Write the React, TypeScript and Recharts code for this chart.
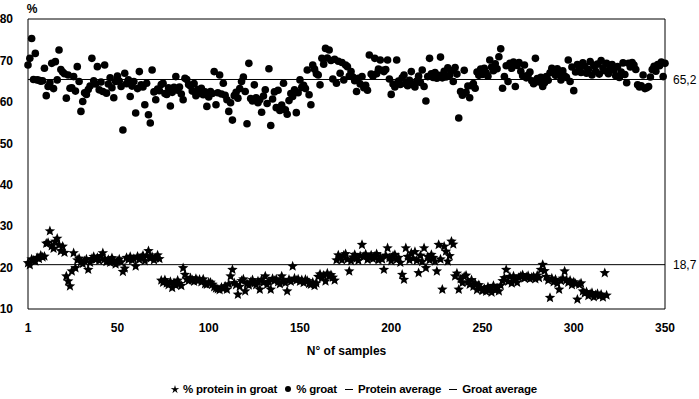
import React from 'react';
import { ScatterChart, Scatter, XAxis, YAxis, ReferenceLine } from 'recharts';

// % groat, samples 1..350
const groat: number[] = [
  68.9, 70.5, 75.3, 65.4, 71.7, 65.3, 65.2, 65.0, 65.1, 68.1,
  61.5, 63.7, 64.6, 69.3, 63.2, 69.7, 65.3, 72.5, 67.8, 67.2,
  66.8, 60.9, 66.5, 63.3, 63.4, 66.1, 62.6, 68.5, 64.9, 57.7,
  60.1, 62.2, 61.8, 63.0, 63.8, 70.5, 65.1, 64.3, 68.5, 62.9,
  64.8, 62.5, 68.9, 62.1, 64.3, 65.8, 63.4, 61.0, 64.9, 66.2,
  65.0, 63.7, 53.2, 66.9, 64.4, 65.3, 61.3, 63.8, 64.9, 57.3,
  63.2, 67.3, 64.1, 63.6, 59.3, 64.5, 56.9, 54.9, 67.7, 62.4,
  60.5, 63.1, 62.7, 64.2, 64.5, 62.0, 61.8, 63.4, 59.0, 62.3,
  63.5, 66.1, 62.8, 63.6, 61.9, 60.5, 65.7, 65.4, 64.2, 63.8,
  62.6, 64.4, 61.5, 63.0, 62.1, 63.3, 61.7, 62.4, 58.9, 61.2,
  62.5, 62.0, 67.3, 59.3, 62.2, 66.5, 61.9, 64.5, 61.6, 60.5,
  57.7, 59.8, 55.6, 61.5, 62.3, 60.9, 63.2, 64.9, 66.0, 62.5,
  54.7, 69.3, 60.8, 60.2, 64.1, 61.0, 59.8, 60.5, 57.5, 61.4,
  62.9, 59.6, 68.0, 54.3, 60.7, 62.4, 58.6, 62.8, 57.9, 59.2,
  64.5, 58.1, 57.0, 60.3, 62.0, 61.3, 62.9, 57.4, 62.2, 65.3,
  63.5, 64.0, 63.2, 67.7, 61.7, 59.3, 68.9, 67.9, 66.8, 66.5,
  64.1, 70.5, 69.1, 72.9, 70.6, 72.5, 70.0, 65.5, 70.3, 64.5,
  69.8, 66.9, 69.5, 65.3, 68.9, 68.5, 66.2, 67.3, 66.0, 65.1,
  62.5, 65.7, 64.3, 66.1, 63.4, 64.0, 62.8, 71.3, 66.7, 66.2,
  70.5, 66.8, 67.9, 70.1, 67.6, 67.3, 67.8, 70.1, 65.5, 61.8,
  64.3, 63.6, 70.1, 65.0, 64.2, 65.8, 66.5, 64.4, 63.9, 65.2,
  67.3, 64.1, 63.6, 65.0, 66.2, 64.7, 67.7, 63.7, 60.2, 66.1,
  70.5, 66.8, 65.9, 67.1, 65.7, 66.4, 70.8, 65.8, 67.4, 66.0,
  68.2, 66.4, 67.5, 64.9, 68.3, 66.7, 56.1, 62.5, 61.6, 67.6,
  62.3, 63.8, 61.0, 63.9, 64.4, 63.3, 67.2, 66.4, 67.9, 66.6,
  68.1, 67.0, 66.2, 70.1, 68.4, 67.5, 69.2, 68.0, 70.9, 72.8,
  63.3, 66.1, 68.7, 64.9, 69.3, 68.1, 69.6, 63.7, 68.8, 69.5,
  67.4, 66.3, 68.9, 65.8, 66.5, 67.2, 65.1, 64.4, 70.5, 65.6,
  64.8, 65.9, 63.7, 64.6, 66.1, 65.2, 67.0, 68.1, 67.3, 66.4,
  68.0, 66.8, 65.3, 67.5, 66.2, 65.9, 70.1, 64.9, 68.4, 62.7,
  67.2, 69.0, 68.3, 67.1, 69.4, 68.6, 66.9, 67.8, 69.7, 66.5,
  68.8, 67.4, 69.1, 66.7, 70.0, 68.2, 67.5, 69.3, 66.8, 68.0,
  69.0, 67.6, 66.3, 68.5, 65.9, 67.2, 69.4, 66.6, 64.6, 69.3,
  68.4, 69.5, 68.9, 67.8, 64.1, 63.6, 63.9, 66.5, 63.2, 63.4,
  63.7, 66.0, 67.8, 68.6, 67.4, 69.0, 68.7, 69.6, 66.1, 69.3,
];

// % protein in groat, samples 1..318
const protein: number[] = [
  21.1, 20.6, 22.0, 21.7, 21.5, 22.4, 22.1, 22.9, 22.5, 22.7,
  25.8, 26.0, 28.8, 25.2, 24.6, 26.3, 27.0, 25.4, 24.0, 25.1,
  23.6, 17.9, 16.7, 15.5, 19.1, 23.5, 19.9, 21.8, 22.2, 21.3,
  20.9, 21.6, 22.0, 19.5, 21.2, 22.1, 22.6, 21.9, 22.4, 21.7,
  22.8, 23.5, 22.0, 21.4, 21.9, 21.2, 22.3, 21.6, 20.8, 21.5,
  22.0, 21.3, 19.0, 19.8, 22.4, 21.9, 22.6, 21.8, 22.1, 20.3,
  22.7, 21.9, 22.4, 22.9, 21.6, 22.8, 24.0, 22.2, 22.6, 21.8,
  22.3, 23.0, 22.1, 16.9, 16.4, 17.0, 16.2, 15.8, 16.6, 15.1,
  16.3, 15.7, 16.9, 16.1, 15.6, 19.9, 18.3, 17.2, 16.8, 17.5,
  17.0, 16.6, 17.3, 16.8, 17.1, 16.5, 17.2, 16.0, 15.9, 16.4,
  16.4, 15.9, 15.3, 15.0, 14.8, 14.6, 15.2, 14.9, 15.5, 14.7,
  16.0, 17.9, 19.5, 16.3, 15.8, 13.5, 15.4, 16.8, 17.2, 14.3,
  16.1, 15.7, 16.5, 17.0, 16.2, 15.8, 16.7, 14.7, 17.1, 16.4,
  17.9, 15.9, 16.6, 14.7, 17.3, 16.8, 17.2, 16.5, 16.0, 17.9,
  16.9, 16.3, 14.3, 17.1, 16.6, 20.3, 17.4, 16.9, 17.2, 16.6,
  17.0, 16.3, 17.1, 16.8, 16.1, 15.9, 16.4, 15.6, 16.2, 17.8,
  18.4, 17.5, 18.1, 16.7, 18.6, 17.9, 18.2, 17.6, 16.9, 21.8,
  23.0, 22.4, 21.8, 22.9, 23.3, 22.0, 19.1, 21.6, 22.5, 23.1,
  22.2, 21.7, 22.8, 25.5, 22.6, 23.2, 21.9, 22.4, 23.0, 22.1,
  22.7, 23.3, 21.8, 22.5, 22.0, 19.5, 22.9, 24.7, 22.3, 21.6,
  22.8, 23.1, 21.9, 22.4, 21.2, 18.3, 17.1, 24.7, 22.6, 21.8,
  23.5, 22.2, 23.8, 21.7, 18.7, 22.9, 21.4, 24.7, 19.9, 22.6,
  21.8, 23.1, 22.4, 21.5, 19.1, 25.5, 22.0, 14.7, 25.1, 23.9,
  21.5, 22.8, 26.3, 25.6, 17.9, 18.6, 14.7, 17.2, 16.3, 17.8,
  18.1, 16.5, 15.9, 17.0, 15.4, 16.2, 14.6, 15.8, 15.1, 14.4,
  14.9, 14.2, 15.3, 14.7, 14.0, 15.6, 14.5, 15.0, 14.3, 15.7,
  16.8, 17.5, 19.5, 16.6, 17.8, 16.2, 17.9, 17.1, 16.4, 17.6,
  17.9, 18.2, 17.4, 17.7, 18.0, 17.3, 17.6, 17.8, 17.2, 18.1,
  17.5, 19.5, 20.7, 19.2, 17.8, 16.9, 12.7, 17.4, 16.5, 17.1,
  16.2, 14.7, 16.8, 17.4, 19.1, 17.0, 16.4, 16.9, 15.8, 16.5,
  16.1, 12.3, 15.9, 16.2, 14.3, 13.8, 14.1, 13.2, 13.6, 13.9,
  12.9, 13.4, 13.7, 13.1, 13.5, 12.8, 18.7, 13.3,
];

const xTicks = [1, 50, 100, 150, 200, 250, 300, 350];
const yTicks = [10, 20, 30, 40, 50, 60, 70, 80];

// average lines: where they sit on the plot, and the labels printed beside them
const groatLine = 65.4;
const proteinLine = 20.7;
const groatLabel = '65,2';
const proteinLabel = '18,7';

const groatData = groat.map((v, i) => ({ n: i + 1, v }));
const proteinData = protein.map((v, i) => ({ n: i + 1, v }));

const FONT = '"Liberation Sans", Arial, sans-serif';
const tickStyle = { fill: '#000', fontSize: 12, fontWeight: 700, fontFamily: FONT };

const starPoints = (cx: number, cy: number, ro: number, ri: number) => {
  const pts: string[] = [];
  for (let k = 0; k < 10; k++) {
    const r = k % 2 === 0 ? ro : ri;
    const a = -Math.PI / 2 + (k * Math.PI) / 5;
    pts.push(`${cx + r * Math.cos(a)},${cy + r * Math.sin(a)}`);
  }
  return pts.join(' ');
};

const Dot = (props: any) => <circle cx={props.cx} cy={props.cy} r={3.8} fill="#000" />;
const Star = (props: any) => <polygon points={starPoints(props.cx, props.cy, 5.5, 2.4)} fill="#000" />;

const legendItem = { display: 'inline-flex', alignItems: 'center', marginRight: 7 } as const;

export default function App() {
  return (
    <div style={{ position: 'absolute', left: 0, top: 0, width: 699, height: 399, background: '#fff' }}>
      <ScatterChart width={699} height={399} margin={{ top: 19, right: 34, left: 0, bottom: 60 }}>
        <XAxis
          type="number"
          dataKey="n"
          domain={[1, 350]}
          ticks={xTicks}
          tickLine={false}
          tickSize={0}
          tickMargin={14}
          height={30}
          axisLine={{ stroke: '#000' }}
          tick={tickStyle}
          label={{ value: 'N° of samples', position: 'bottom', offset: 7, style: tickStyle }}
        />
        <YAxis
          type="number"
          dataKey="v"
          domain={[10, 80]}
          ticks={yTicks}
          width={28}
          tickLine={false}
          tickSize={0}
          tickMargin={15}
          axisLine={{ stroke: '#000' }}
          tick={tickStyle}
          label={(p: any) => (
            <text x={p.viewBox.x + p.viewBox.width + 4} y={13} textAnchor="middle" style={tickStyle}>
              %
            </text>
          )}
        />
        <ReferenceLine y={80} stroke="#000" />
        <ReferenceLine x={350} stroke="#000" />
        <ReferenceLine
          y={groatLine}
          stroke="#000"
          label={{ value: groatLabel, position: 'right', offset: 8, style: { ...tickStyle, fontWeight: 400 } }}
        />
        <ReferenceLine
          y={proteinLine}
          stroke="#000"
          label={{ value: proteinLabel, position: 'right', offset: 8, style: { ...tickStyle, fontWeight: 400 } }}
        />
        <Scatter name="% groat" data={groatData} shape={Dot} isAnimationActive={false} />
        <Scatter name="% protein in groat" data={proteinData} shape={Star} isAnimationActive={false} />
      </ScatterChart>
      <div
        style={{
          position: 'absolute',
          top: 383,
          left: 0,
          width: 714,
          textAlign: 'center',
          fontFamily: FONT,
          fontSize: 11.5,
          fontWeight: 700,
          letterSpacing: -0.2,
          color: '#000',
          whiteSpace: 'nowrap',
        }}
      >
        <span style={legendItem}>
          <svg width={10} height={10} style={{ marginRight: 3 }}>
            <polygon points={starPoints(5, 5.5, 4.5, 1.6)} fill="#000" />
          </svg>
          % protein in groat
        </span>
        <span style={legendItem}>
          <svg width={8} height={10} style={{ marginRight: 4 }}>
            <circle cx={4} cy={5} r={3} fill="#000" />
          </svg>
          % groat
        </span>
        <span style={legendItem}>
          <svg width={10} height={10} style={{ marginRight: 4 }}>
            <line x1={1} y1={5.5} x2={9} y2={5.5} stroke="#000" strokeWidth={1} />
          </svg>
          Protein average
        </span>
        <span style={legendItem}>
          <svg width={10} height={10} style={{ marginRight: 4 }}>
            <line x1={1} y1={5.5} x2={9} y2={5.5} stroke="#000" strokeWidth={1} />
          </svg>
          Groat average
        </span>
      </div>
    </div>
  );
}
